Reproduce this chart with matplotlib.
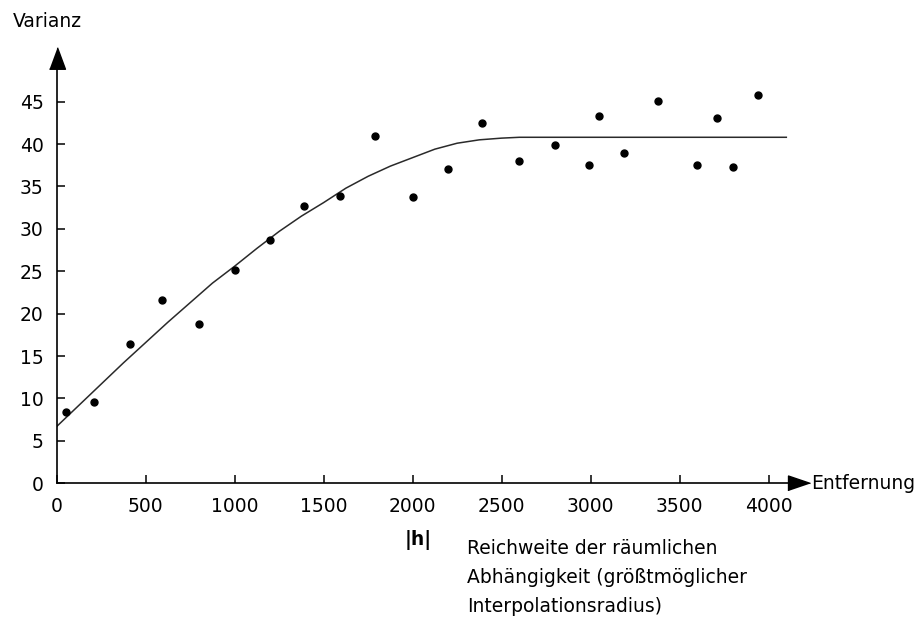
import matplotlib.pyplot as plt

# Empirical variogram points (distance, variance)
dist = [50, 210, 410, 590, 800, 1000, 1200, 1390, 1590, 1790, 2000, 2200,
        2390, 2600, 2800, 2990, 3050, 3190, 3380, 3600, 3710, 3800, 3940]
var = [8.4, 9.6, 16.4, 21.6, 18.8, 25.2, 28.7, 32.7, 33.9, 40.9, 33.8, 37.1,
       42.5, 38.0, 39.9, 37.5, 43.3, 39.0, 45.1, 37.5, 43.1, 37.3, 45.8]

# Model curve
curve_x = [0, 125, 250, 375, 500, 625, 750, 875, 1000, 1125, 1250, 1375,
           1500, 1625, 1750, 1875, 2000, 2125, 2250, 2375, 2500, 2600, 4100]
curve_y = [6.7, 9.2, 11.7, 14.2, 16.6, 19.0, 21.3, 23.6, 25.6, 27.7, 29.7, 31.5,
           33.1, 34.8, 36.2, 37.4, 38.4, 39.4, 40.1, 40.5, 40.7, 40.8, 40.8]

xticks = [0, 500, 1000, 1500, 2000, 2500, 3000, 3500, 4000]
yticks = [0, 5, 10, 15, 20, 25, 30, 35, 40, 45]
note_lines = ["Reichweite der räumlichen",
              "Abhängigkeit (größtmöglicher",
              "Interpolationsradius)"]

plt.rcParams['font.family'] = 'DejaVu Sans'
fs = 13.5

fig = plt.figure(figsize=(9.19, 6.19), dpi=100)
ax = fig.add_axes([56.7 / 919, 1 - 483.3 / 619, 783 / 919, 441 / 619])
ax.set_xlim(0, 4400)
ax.set_ylim(0, 52)

ax.plot(curve_x, curve_y, color='#2a2a2a', lw=1.1)
ax.plot(dist, var, 'o', color='black', ms=5)

for s in ['top', 'right']:
    ax.spines[s].set_visible(False)
ax.spines['left'].set_bounds(0, 49)
ax.spines['bottom'].set_bounds(0, 4110)
ax.spines['left'].set_linewidth(1.2)
ax.spines['bottom'].set_linewidth(1.2)

ax.set_xticks(xticks)
ax.set_yticks(yticks)
ax.tick_params(direction='in', length=6, width=1.1, labelsize=fs)
ax.tick_params(axis='y', pad=9.5)
ax.tick_params(axis='x', pad=10)

# arrow heads
up = [(-0.37, -0.5), (0.37, -0.5), (0, 0.5)]
right = [(-0.5, -0.34), (-0.5, 0.34), (0.5, 0)]
ax.plot([0], [50.2], marker=up, color='black', ms=15.5, clip_on=False)
ax.plot([4170], [0], marker=right, color='black', ms=15.8, clip_on=False)

ax.text(4238, 0, "Entfernung", fontsize=fs, va='center', ha='left', clip_on=False)
fig.text(12.7 / 919, 1 - 21.7 / 619, "Varianz", fontsize=fs, va='center', ha='left')
fig.text(418 / 919, 1 - 540 / 619, "|h|", fontsize=fs, fontweight='bold',
         va='center', ha='center')
for i, line in enumerate(note_lines):
    fig.text(467 / 919, 1 - (548 + i * 29.5) / 619, line, fontsize=fs,
             va='center', ha='left')

fig.savefig('out.png', dpi=100)
